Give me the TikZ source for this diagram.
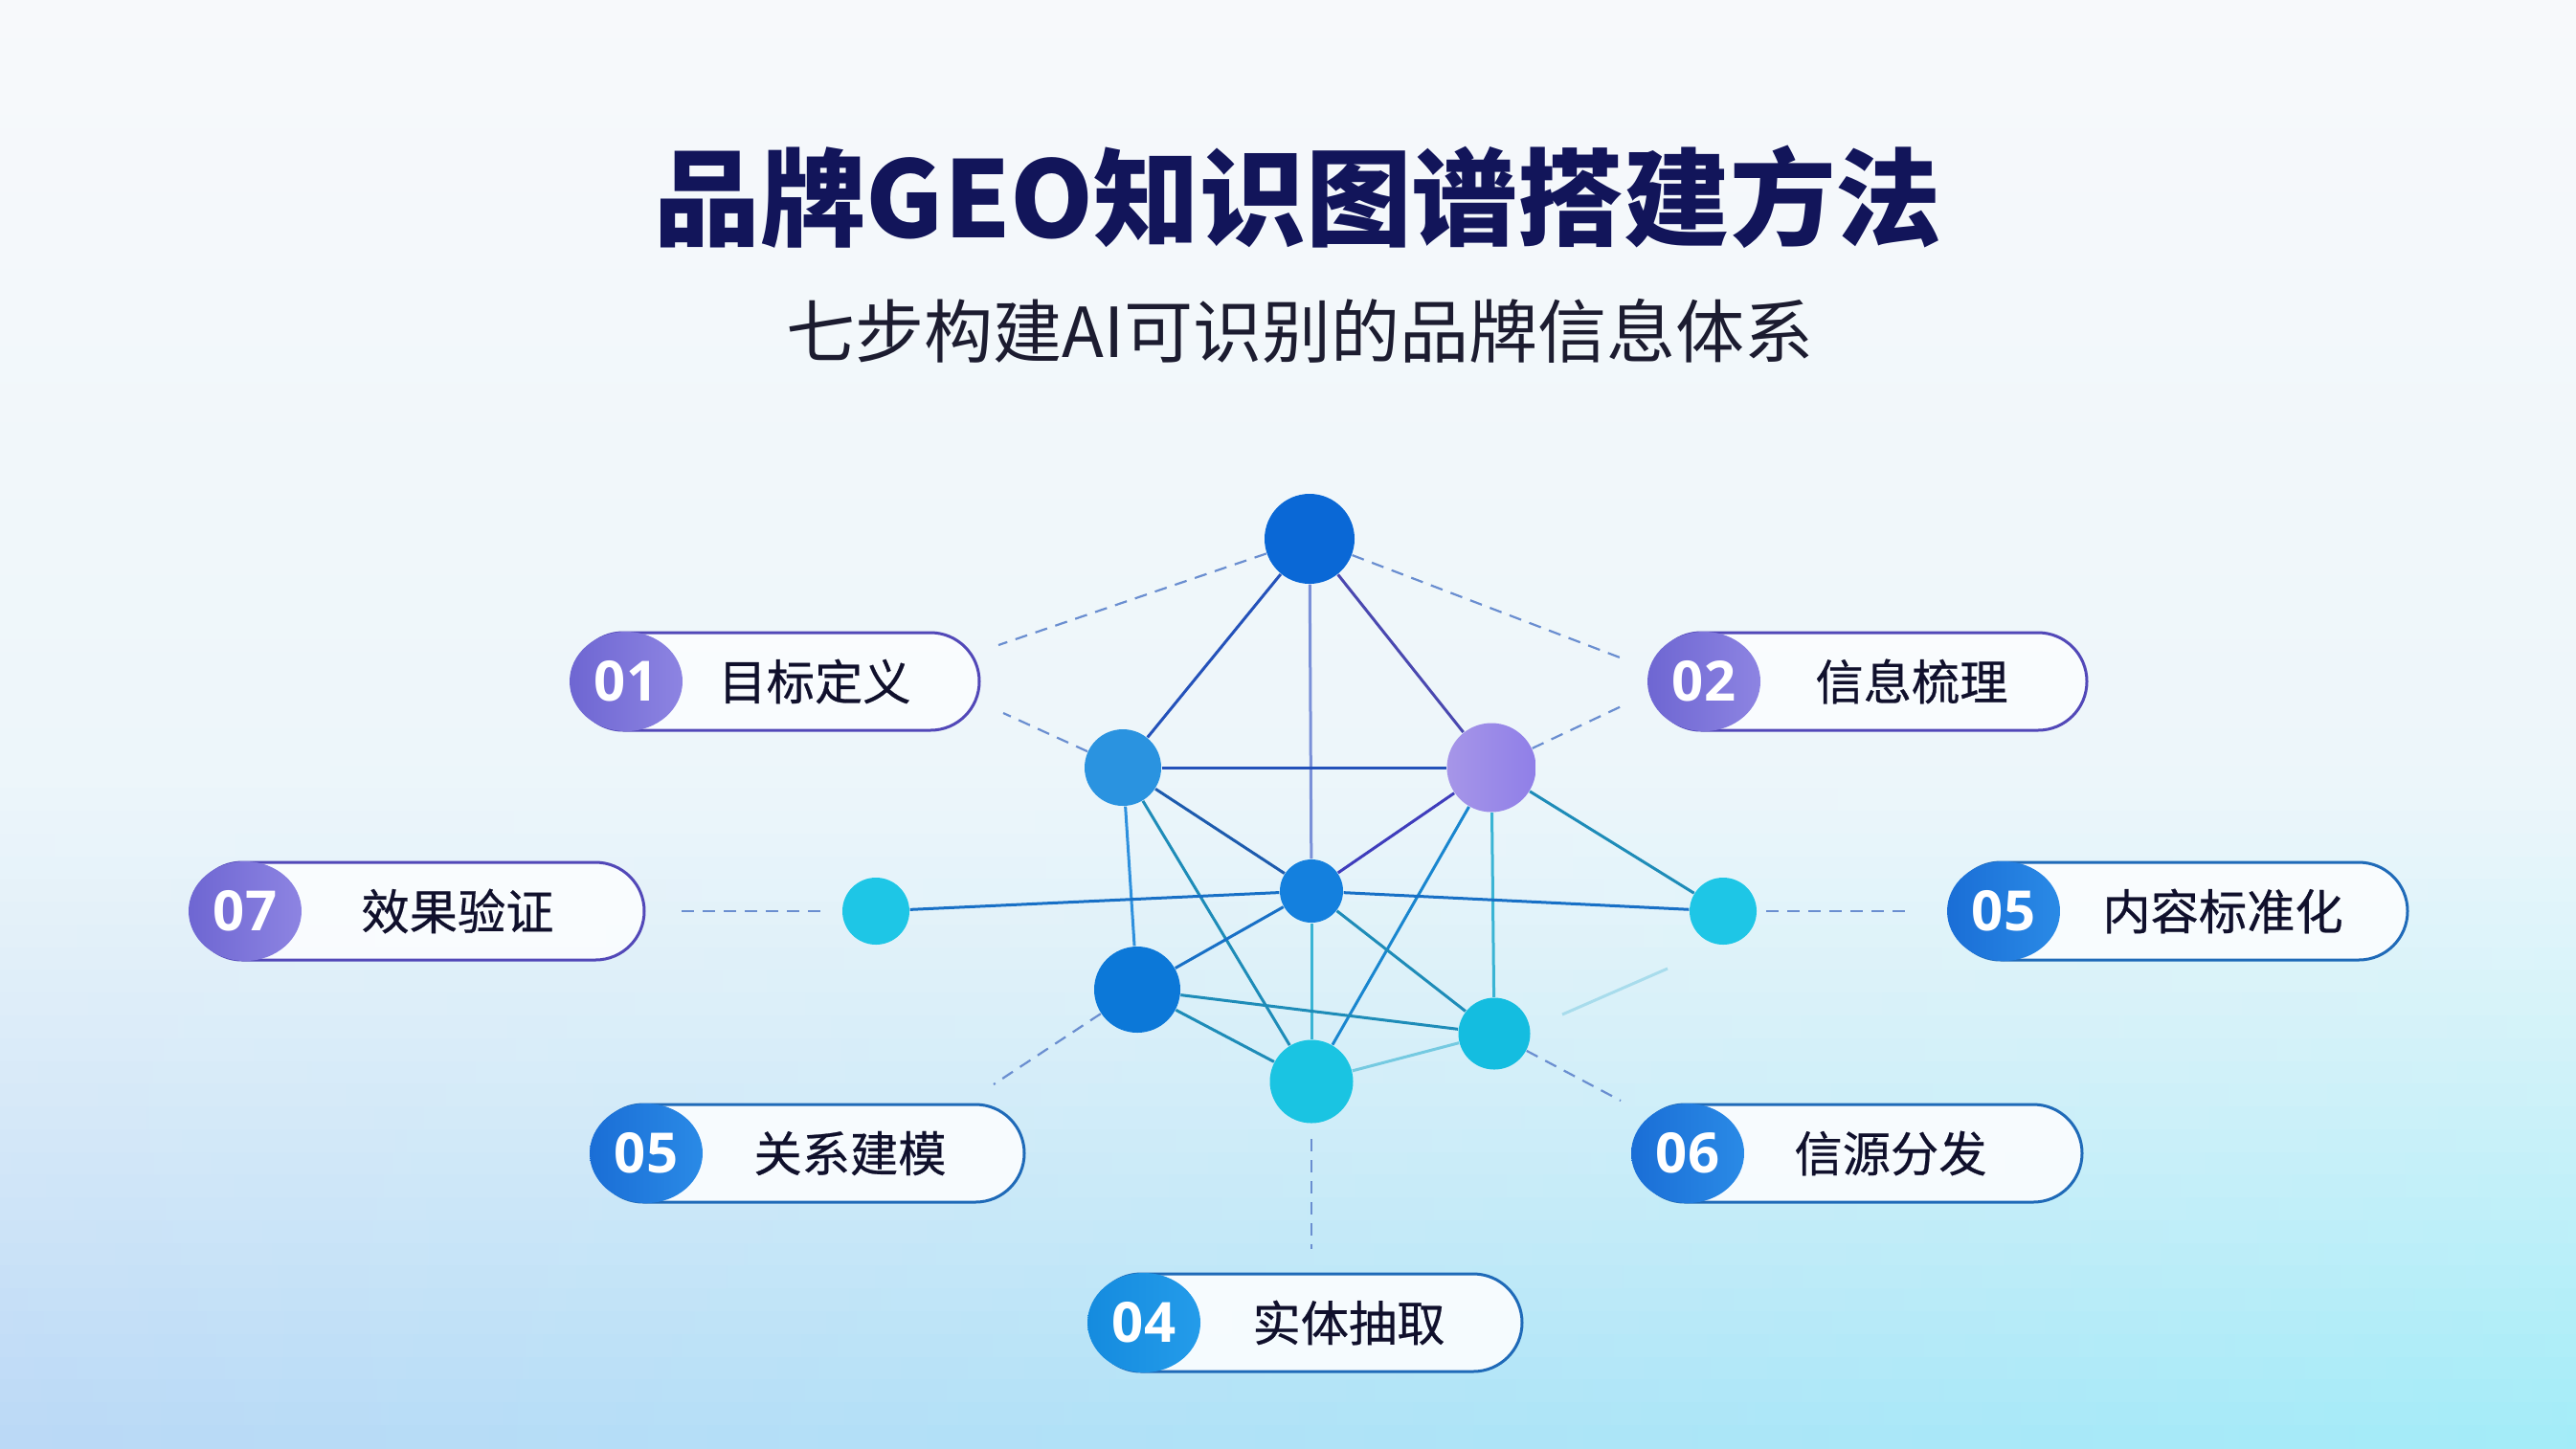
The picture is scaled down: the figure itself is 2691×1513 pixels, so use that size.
\documentclass[tikz,border=0pt]{standalone}
\usepackage{fontspec}
\setmainfont{Noto Sans CJK SC}
\newfontfamily\numfont{Open Sans}
\newfontfamily\pillfont[FakeBold=0.5]{Noto Sans CJK SC}
\usetikzlibrary{shapes.geometric,shapes.misc}
\definecolor{bgA}{HTML}{F7F9FB}
\definecolor{bgB}{HTML}{EDF6FA}
\definecolor{bgL}{HTML}{BAD8F6}
\definecolor{bgR}{HTML}{A2ECF8}
\definecolor{titlec}{HTML}{12155A}
\definecolor{subc}{HTML}{1C1C30}
\definecolor{txtc}{HTML}{10102C}
\definecolor{cTop}{HTML}{0A68D6}
\definecolor{cLM}{HTML}{2A93E0}
\definecolor{cPur}{HTML}{9C8AE6}
\definecolor{cCen}{HTML}{1480DE}
\definecolor{cLL}{HTML}{0C78D8}
\definecolor{cLR}{HTML}{14BDE0}
\definecolor{cBot}{HTML}{1AC4E2}
\definecolor{cSm}{HTML}{1EC6E6}
\definecolor{eBlue}{HTML}{2452BA}
\definecolor{ePur}{HTML}{4A48B0}
\definecolor{eLight}{HTML}{7A90D8}
\definecolor{eTeal}{HTML}{1E8CB8}
\definecolor{eCyan}{HTML}{3AB4D4}
\definecolor{eFaint}{HTML}{A8DCEC}
\definecolor{dashc}{HTML}{6A8ED0}
\definecolor{purLine}{HTML}{5248B8}
\definecolor{bluLine}{HTML}{1F6AB8}
\definecolor{purA}{HTML}{6E66D2}
\definecolor{purB}{HTML}{8D84E2}
\definecolor{bluA}{HTML}{1A6ED6}
\definecolor{bluB}{HTML}{2A8AE6}
\definecolor{pillFill}{HTML}{FBFDFF}
\begin{document}
\begin{tikzpicture}[x=0.1mm,y=-0.1mm,
  gnode/.style={circle,inner sep=0pt,draw=none},
  edgeline/.style={line width=0.3mm},
  dashline/.style={line width=0.22mm,draw=dashc,dash pattern=on 1.3mm off 0.9mm},
  pillbox/.style={rounded rectangle,minimum height=10.2mm,inner sep=0pt,line width=0.3mm,fill=pillFill,fill opacity=0.92},
  badge/.style={ellipse,minimum width=11.8mm,minimum height=10.4mm,inner sep=0pt,text=white,
     font=\numfont\bfseries\fontsize{16.5}{18}\selectfont},
  purbadge/.style={badge,left color=purA,right color=purB},
  blubadge/.style={badge,left color=bluA,right color=bluB},
  pilltext/.style={text=txtc,font=\pillfont\fontsize{14.3}{16}\selectfont}
]
\useasboundingbox (0,0) rectangle (2691,1513);
% background
\fill[top color=bgA,bottom color=bgB] (0,0) rectangle (2691,801);
\foreach \i in {0,...,29}{
  \pgfmathsetmacro\ya{800+\i*23.77}
  \pgfmathsetmacro\yb{\ya+25}
  \pgfmathsetmacro\p{100*pow((\i+0.5)/30,1.15)}
  \fill[left color=bgL!\p!bgB,right color=bgR!\p!bgB] (0,\ya) rectangle (2691,\yb);
}

% titles
\node[text=titlec,font=\bfseries\fontsize{31.5}{36}\selectfont] (title) at (1356,206) {品牌GEO知识图谱搭建方法};
\node[text=subc,font=\fontsize{20.5}{24}\selectfont] (subtitle) at (1358,346) {七步构建AI可识别的品牌信息体系};

% graph nodes
\node[gnode,fill=cTop,minimum size=9.4mm] (top) at (1368,563) {};
\node[gnode,fill=cLM,minimum size=8.0mm] (lm) at (1173,802) {};
\node[gnode,left color=cPur!90!white,right color=cPur!92!blue,minimum size=9.3mm] (pur) at (1558,802) {};
\node[gnode,fill=cCen,minimum size=6.6mm] (cen) at (1370,931) {};
\node[gnode,fill=cLL,minimum size=9.0mm] (ll) at (1188,1034) {};
\node[gnode,fill=cLR,minimum size=7.5mm] (lr) at (1561,1080) {};
\node[gnode,fill=cBot,minimum size=8.7mm] (bot) at (1370,1130) {};
\node[gnode,fill=cSm,minimum size=7.0mm] (ls) at (915,952) {};
\node[gnode,fill=cSm,minimum size=7.0mm] (rs) at (1800,952) {};

% free ends of dashed guide lines
\coordinate (d1) at (1043,674);
\coordinate (d2) at (1700,690);
\coordinate (d3) at (1048,745);
\coordinate (d4) at (1700,735);
\coordinate (d5a) at (712,952);
\coordinate (d5b) at (858,952);
\coordinate (d6a) at (1845,952);
\coordinate (d6b) at (1991,952);
\coordinate (d7) at (1038,1133);
\coordinate (d8) at (1693,1150);
\coordinate (d9a) at (1370,1190);
\coordinate (d9b) at (1370,1305);
\coordinate (f1) at (1632,1060);
\coordinate (f2) at (1742,1012);

% dashed guides
\draw[dashline] (top) -- (d1);
\draw[dashline] (top) -- (d2);
\draw[dashline] (lm) -- (d3);
\draw[dashline] (pur) -- (d4);
\draw[dashline] (d5a) -- (d5b);
\draw[dashline] (d6a) -- (d6b);
\draw[dashline] (ll) -- (d7);
\draw[dashline] (lr) -- (d8);
\draw[dashline] (d9a) -- (d9b);
\draw[edgeline,eFaint] (f1) -- (f2);

% solid edges
\draw[edgeline,eBlue] (top) -- (lm);
\draw[edgeline,eLight] (top) -- (cen);
\draw[edgeline,ePur] (top) -- (pur);
\draw[edgeline,eBlue] (lm) -- (pur);
\draw[edgeline,eBlue!80!teal] (lm) -- (cen);
\draw[edgeline,ePur!85!blue] (pur) -- (cen);
\draw[edgeline,eCyan!80!blue] (lm) -- (ll);
\draw[edgeline,eTeal] (lm) -- (bot);
\draw[edgeline,eBlue!70!cyan] (pur) -- (bot);
\draw[edgeline,eCyan] (pur) -- (lr);
\draw[edgeline,eTeal] (pur) -- (rs);
\draw[edgeline,eTeal!80!blue] (cen) -- (ls);
\draw[edgeline,eTeal!80!blue] (cen) -- (rs);
\draw[edgeline,eTeal!80!blue] (cen) -- (ll);
\draw[edgeline,eTeal] (cen) -- (lr);
\draw[edgeline,eCyan] (cen) -- (bot);
\draw[edgeline,eTeal] (ll) -- (lr);
\draw[edgeline,eTeal] (ll) -- (bot);
\draw[edgeline,eCyan!70!white] (bot) -- (lr);

% step pills
\node[pillbox,draw=purLine,minimum width=42.3mm] (p1) at (811.5,712) {};
\node[purbadge] (b1) at (654,712) {01};
\node[pilltext] (t1) at (851,712) {目标定义};

\node[pillbox,draw=purLine,minimum width=45.4mm] (p2) at (1953,712) {};
\node[purbadge] (b2) at (1780,712) {02};
\node[pilltext] (t2) at (1997,712) {信息梳理};

\node[pillbox,draw=purLine,minimum width=47.1mm] (p7) at (437.5,952) {};
\node[purbadge] (b7) at (256,952) {07};
\node[pilltext] (t7) at (478,952) {效果验证};

\node[pillbox,draw=bluLine,minimum width=47.6mm] (p5r) at (2277,952) {};
\node[blubadge] (b5r) at (2093,952) {05};
\node[pilltext] (t5r) at (2322,952) {内容标准化};

\node[pillbox,draw=bluLine,minimum width=44.9mm] (p5l) at (845.5,1205) {};
\node[blubadge] (b5l) at (675,1205) {05};
\node[pilltext] (t5l) at (888,1205) {关系建模};

\node[pillbox,draw=bluLine,minimum width=46.6mm] (p6) at (1942,1205) {};
\node[blubadge] (b6) at (1763,1205) {06};
\node[pilltext] (t6) at (1975,1205) {信源分发};

\node[pillbox,draw=bluLine,minimum width=44.9mm] (p4) at (1365.5,1382) {};
\node[badge,left color=bluA!80!cyan,right color=bluB!85!cyan] (b4) at (1195,1382) {04};
\node[pilltext] (t4) at (1409,1382) {实体抽取};
\end{tikzpicture}
\end{document}
